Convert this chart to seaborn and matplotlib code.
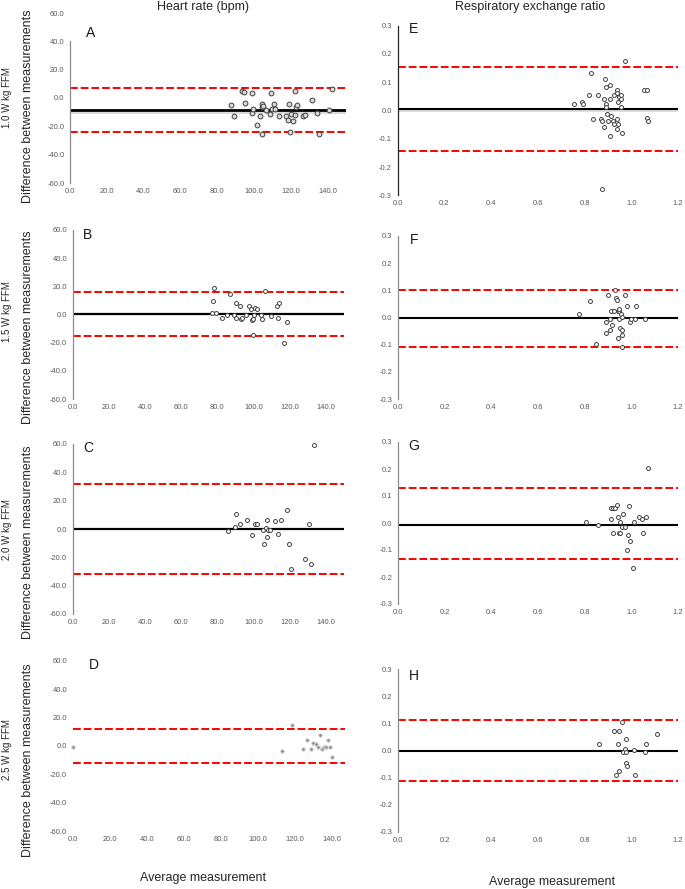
import numpy as np
import pandas as pd
import matplotlib
matplotlib.use("Agg")
import matplotlib.pyplot as plt
import seaborn as sns
from matplotlib.ticker import FormatStrFormatter

sns.set_style("white")
plt.rcParams['font.family'] = ['Liberation Sans', 'DejaVu Sans']

# ---- Heart rate (bpm): average vs difference ----
a_x = [87.3, 89.1, 93.4, 94.3, 95.0, 98.8, 98.8, 99.5, 101.7, 103.3, 104.1, 104.6, 104.6,
       105.1, 106.6, 108.6, 109.1, 109.8, 111.1, 111.3, 113.8, 117.4, 118.3, 118.9, 119.6,
       120.3, 121.4, 122.1, 122.1, 123.0, 123.6, 126.8, 127.5, 131.3, 134.0, 135.5, 140.5, 142.4]
a_y = [-5.2, -12.9, 5.2, 4.2, -3.5, 3.3, -10.4, -7.5, -18.8, -12.9, -25.6, -4.2, -6.4,
       -5.6, -8.7, -11.3, 3.3, -7.5, -4.2, -7.5, -12.9, -12.9, -15.3, -4.2, -24.0,
       -11.3, -16.5, 5.2, -12.2, -6.4, -5.2, -12.9, -12.2, -1.6, -10.4, -25.6, -8.7, 6.1]
b_x = [77.9, 77.6, 77.0, 79.2, 82.3, 85.5, 86.8, 89.2, 90.1, 90.5, 92.3, 93.2, 93.6, 96.0,
       97.6, 98.6, 98.9, 99.8, 100.0, 99.8, 100.8, 101.7, 104.3, 104.4, 106.3, 109.9,
       112.7, 113.7, 114.2, 116.6, 118.3]
b_y = [18.8, 9.8, 0.8, 0.8, -2.2, -0.4, 14.8, -0.4, 7.9, -2.2, 6.0, -3.2, -2.2, -0.4,
       6.0, 3.9, -4.2, -3.2, -0.4, -14.3, 4.8, 3.9, -0.4, -3.2, 16.7, -1.1,
       6.0, -2.2, 7.9, -20.0, -5.3]
c_x = [86.0, 89.5, 90.1, 92.5, 96.2, 99.1, 100.8, 102.1, 105.2, 105.9, 106.7, 107.4, 107.4,
       108.2, 108.9, 111.8, 113.5, 115.3, 118.6, 119.7, 120.8, 128.2, 130.8, 131.7, 133.6]
c_y = [-1.2, 1.2, 10.6, 3.8, 6.4, -4.5, 3.8, 3.8, -0.7, -10.6, 0.7, 6.4, -5.6,
       -0.5, -0.5, 5.6, -3.8, 6.4, 13.4, -10.6, -28.5, -21.2, 3.8, -24.5, 59.5]
d_x = [0.4, 113.0, 118.4, 124.3, 126.5, 128.6, 129.7, 131.2, 132.3, 133.3, 134.4, 135.5,
       136.6, 137.8, 138.7, 140.2]
d_y = [-0.4, -3.2, 14.9, -2.0, 4.1, -2.0, 2.0, 1.1, -0.8, 7.9, -2.0, -0.8,
       -0.8, 4.1, -0.8, -7.9]

# ---- Respiratory exchange ratio ----
e_x = [0.754, 0.789, 0.793, 0.820, 0.827, 0.838, 0.857, 0.870, 0.873, 0.873, 0.883, 0.884,
       0.888, 0.890, 0.891, 0.894, 0.898, 0.902, 0.907, 0.908, 0.911, 0.914, 0.922, 0.925,
       0.927, 0.937, 0.938, 0.940, 0.941, 0.944, 0.945, 0.948, 0.955, 0.958, 0.958, 0.961,
       0.975, 1.056, 1.068, 1.068, 1.072]
e_y = [0.022, 0.031, 0.022, 0.054, 0.133, -0.029, 0.054, -0.029, -0.038, -0.279, 0.041, -0.057,
       0.113, 0.022, 0.082, 0.011, -0.013, -0.038, 0.091, -0.089, 0.041, -0.018, -0.038, -0.048,
       0.055, -0.029, 0.074, -0.067, 0.063, 0.031, -0.048, 0.047, 0.041, 0.054, 0.012, -0.080,
       0.174, 0.074, 0.074, -0.028, -0.038]
f_x = [0.777, 0.822, 0.849, 0.891, 0.892, 0.899, 0.908, 0.909, 0.913, 0.916, 0.925, 0.931,
       0.935, 0.939, 0.941, 0.944, 0.945, 0.946, 0.948, 0.951, 0.956, 0.959, 0.959, 0.959,
       0.962, 0.972, 0.982, 0.993, 0.998, 1.016, 1.020, 1.059]
f_y = [0.013, 0.062, -0.099, -0.016, -0.056, 0.082, -0.047, -0.007, 0.023, -0.027, 0.023, 0.102,
       0.073, 0.066, 0.023, -0.076, 0.023, 0.031, -0.005, -0.037, 0.013, -0.047, -0.066, -0.109,
       0.002, 0.082, 0.043, -0.017, -0.007, -0.007, 0.043, -0.007]
g_x = [0.804, 0.858, 0.914, 0.914, 0.923, 0.923, 0.928, 0.938, 0.941, 0.945, 0.951, 0.952,
       0.963, 0.960, 0.972, 0.980, 0.985, 0.992, 0.996, 1.007, 1.013, 1.031, 1.045, 1.050,
       1.062, 1.070]
g_y = [0.004, -0.007, 0.014, 0.054, 0.054, -0.036, 0.054, 0.067, 0.024, -0.036, 0.004, -0.036,
       0.034, -0.015, -0.015, -0.100, -0.046, 0.064, -0.066, -0.166, 0.004, 0.024, 0.014, -0.036,
       0.024, 0.205]
h_x = [0.862, 0.926, 0.933, 0.942, 0.945, 0.945, 0.962, 0.965, 0.973, 0.976, 0.975, 0.979,
       0.982, 1.012, 1.016, 1.058, 1.062, 1.112]
h_y = [0.023, 0.073, -0.090, 0.023, 0.073, -0.077, 0.104, -0.007, 0.005, -0.007, -0.045, 0.042,
       -0.057, 0.003, -0.089, -0.007, 0.023, 0.062]

# bias and limits of agreement (mean, upper, lower)
a_lim = [-8.5, 7.3, -24.0]
b_lim = [0.6, 15.7, -15.0]
c_lim = [-0.2, 31.5, -32.0]
d_lim = [None, 11.9, -12.3]
e_lim = [0.0065, 0.153, -0.142]
f_lim = [-0.002, 0.100, -0.108]
g_lim = [-0.006, 0.129, -0.134]
h_lim = [-0.001, 0.111, -0.113]

panel_letters = ["A", "B", "C", "D", "E", "F", "G", "H"]
row_labels = ["1.0 W kg FFM", "1.5 W kg FFM", "2.0 W kg FFM", "2.5 W kg FFM"]

W, H = 685, 889
fig = plt.figure(figsize=(6.85, 8.89), dpi=100)


def add_ax(left, top, right, bottom):
    return fig.add_axes([left / W, 1 - bottom / H, (right - left) / W, (bottom - top) / H])


def style(ax, xlim, ylim, xticks, yticks, spine_color):
    ax.set_xlim(*xlim)
    ax.set_ylim(*ylim)
    ax.set_xticks(xticks)
    ax.set_yticks(yticks)
    ax.xaxis.set_major_formatter(FormatStrFormatter('%.1f'))
    ax.yaxis.set_major_formatter(FormatStrFormatter('%.1f'))
    ax.tick_params(axis='both', length=0, labelsize=5.4, labelcolor='#595959')
    ax.tick_params(axis='y', pad=4)
    ax.tick_params(axis='x', pad=3.5)
    for s in ['top', 'right', 'bottom']:
        ax.spines[s].set_visible(False)
    ax.spines['left'].set_color(spine_color)
    ax.spines['left'].set_linewidth(0.9)
    ax.set_xlabel('')
    ax.set_ylabel('')
    ax.patch.set_alpha(0)


def limits(ax, lim, lw_mean=1.5):
    mean, up, low = lim
    if mean is not None:
        ax.axhline(mean, color='black', lw=lw_mean, zorder=2)
    for v in (up, low):
        ax.axhline(v, color='#ff0000', lw=1.4, dashes=(4, 1.5), zorder=2)


hr_xt = np.arange(0, 141, 20)
hr_yt = np.arange(-60, 61, 20)
rer_xt = np.round(np.arange(0, 1.21, 0.2), 1) + 0.0
rer_yt = np.round(np.arange(-3, 4) / 10, 1) + 0.0

hr_boxes = [(70, 13, 346, 183), (72.7, 230, 344, 399), (72.7, 444, 344, 614), (72.7, 661, 345, 831)]
rer_boxes = [(397.5, 25.7, 678, 195.3), (398, 236, 678, 399), (398, 442, 678, 604), (398, 669, 678, 832)]
hr_data = [(a_x, a_y, a_lim), (b_x, b_y, b_lim), (c_x, c_y, c_lim), (d_x, d_y, d_lim)]
rer_data = [(e_x, e_y, e_lim), (f_x, f_y, f_lim), (g_x, g_y, g_lim), (h_x, h_y, h_lim)]

# heart rate column
for i, (box, (x, y, lim)) in enumerate(zip(hr_boxes, hr_data)):
    ax = add_ax(*box)
    df = pd.DataFrame({'avg': x, 'diff': y})
    if i == 0:
        ax.axhline(-10.5, color='#dcdcdc', lw=1.4, zorder=1)
    limits(ax, lim, lw_mean=2.0 if i == 0 else 1.6)
    if i == 3:
        sns.scatterplot(data=df, x='avg', y='diff', ax=ax, s=6, color='#7f7f7f',
                        edgecolor='#d0d0d0', linewidth=0.8, zorder=3, clip_on=False)
    else:
        sns.scatterplot(data=df, x='avg', y='diff', ax=ax, s=12 if i == 0 else 8,
                        facecolor='#d9d9d9' if i == 0 else 'white',
                        edgecolor='#404040', linewidth=0.7, zorder=3, clip_on=False)
    style(ax, (0, 150 if i < 3 else 147), (-60, 60), hr_xt, hr_yt, '#8c8c8c')
    if i == 0:
        ax.spines['left'].set_bounds(-60, 40)
    if i == 3:
        ax.spines['left'].set_visible(False)

# respiratory exchange ratio column
for i, (box, (x, y, lim)) in enumerate(zip(rer_boxes, rer_data)):
    ax = add_ax(*box)
    df = pd.DataFrame({'avg': x, 'diff': y})
    if i == 0:
        ax.axhline(0.0, color='#dcdcdc', lw=1.4, zorder=1)
    limits(ax, lim, lw_mean=1.5)
    sns.scatterplot(data=df, x='avg', y='diff', ax=ax, s=8, facecolor='white',
                    edgecolor='#404040', linewidth=0.7, zorder=3, clip_on=False)
    style(ax, (0, 1.2), (-0.3, 0.3), rer_xt, rer_yt, '#262626' if i == 0 else '#8c8c8c')

# panel letters
letter_pos = [(91, 33), (88, 235), (88, 448), (94, 665), (414, 29), (414, 240), (414, 446), (414, 676)]
for letter, (px, py) in zip(panel_letters, letter_pos):
    fig.text(px / W, 1 - py / H, letter, fontsize=10, ha='center', va='center', color='#1a1a1a')

# column titles
fig.text(203 / W, 1 - 7 / H, "Heart rate (bpm)", fontsize=9, ha='center', va='center')
fig.text(530 / W, 1 - 7 / H, "Respiratory exchange ratio", fontsize=9, ha='center', va='center')

# row labels
row_y = [98, 312, 530, 750]
diff_y = [106, 327, 542, 760]
for lab, ry, dy in zip(row_labels, row_y, diff_y):
    fig.text(7 / W, 1 - ry / H, lab, fontsize=7, rotation=90, ha='center', va='center', color='#262626')
    fig.text(28 / W, 1 - dy / H, "Difference between measurements", fontsize=9, rotation=90,
             ha='center', va='center')

fig.text(203 / W, 1 - 878 / H, "Average measurement", fontsize=9, ha='center', va='center')
fig.text(552 / W, 1 - 882 / H, "Average measurement", fontsize=9, ha='center', va='center')

fig.savefig("out.png", dpi=100)
